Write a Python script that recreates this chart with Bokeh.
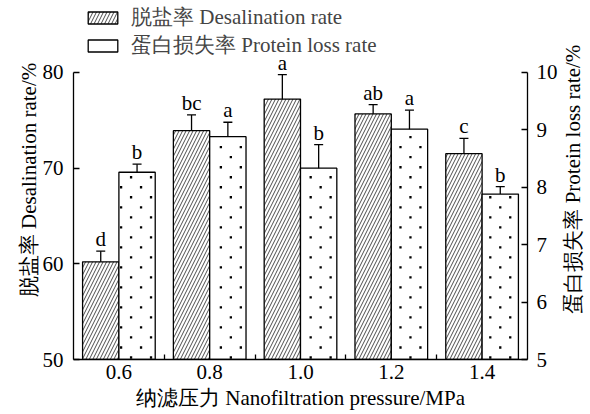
import numpy as np
from math import pi
from bokeh.plotting import figure
from bokeh.layouts import row
from bokeh.models import (ColumnDataSource, Range1d, LinearAxis, FixedTicker,
                          NumeralTickFormatter, Whisker, TeeHead, Legend, LegendItem)
from bokeh.core.properties import value
from bokeh.embed import file_html
from bokeh.resources import INLINE

# ---- data ----
pressure = [0.6, 0.8, 1.0, 1.2, 1.4]
desal = [60.2, 73.9, 77.2, 75.65, 71.5]
desal_err = [1.12, 1.65, 2.55, 0.97, 1.6]
desal_letters = ["d", "bc", "a", "ab", "c"]
protein = [8.26, 8.88, 8.33, 9.01, 7.88]
protein_err = [0.14, 0.25, 0.41, 0.33, 0.13]
protein_letters = ["b", "a", "b", "a", "b"]
left_ticks = [50, 60, 70, 80]
right_ticks = [5, 6, 7, 8, 9, 10]
x_title = "纳滤压力 Nanofiltration pressure/MPa"
left_title = "脱盐率 Desalination rate/%"
right_title = "蛋白损失率 Protein loss rate/%"
legend_labels = ["脱盐率 Desalination rate", "蛋白损失率 Protein loss rate"]

# ---- style / layout ----
FONT = "Liberation Serif"
FS = "21px"
BAR_W = 0.08
LEFT_TOP = 87.5                       # frame extends above the axis end (80) for legend/letters
RIGHT_TOP = 5 + (LEFT_TOP - 50) / 6   # keeps right scale aligned (50->5, 80->10)
H = 414
W_MAIN = 560
W_SIDE = 30
FRAME_W_PX = 455.0
FRAME_H_PX = 358.5
DOT_DX, DOT_DY = 20.0, 10.0           # staggered dot texture spacing (px)

px = np.array(pressure)
d = np.array(desal); de = np.array(desal_err)
pr = np.array(protein); pe = np.array(protein_err)
src = ColumnDataSource(dict(
    x_d=px - BAR_W / 2, x_p=px + BAR_W / 2,
    desal=d, d_up=d + de, d_lo=d - de, d_let=desal_letters,
    protein=pr, p_up=pr + pe, p_lo=pr - pe, p_let=protein_letters,
))

# dotted fill texture for the protein bars (staggered lattice clipped to each bar)
x_per_px = 1.0 / FRAME_W_PX
r_per_px = (RIGHT_TOP - 5) / FRAME_H_PX
dot_x, dot_y = [], []
for xc, top in zip(px + BAR_W / 2, pr):
    left_px = (xc - BAR_W / 2 - 0.5) / x_per_px + 1.5
    right_px = (xc + BAR_W / 2 - 0.5) / x_per_px - 1.5
    top_px = (top - 5) / r_per_px - 2.0
    j = 0
    while 2 + j * DOT_DY <= top_px:
        y_px = 2 + j * DOT_DY
        off = 17.7 if j % 2 == 0 else 7.7
        k0 = int(np.floor((left_px - off) / DOT_DX))
        for k in range(k0, k0 + 4):
            x_px = off + k * DOT_DX
            if left_px <= x_px <= right_px:
                dot_x.append(0.5 + x_px * x_per_px)
                dot_y.append(5 + y_px * r_per_px)
        j += 1

p = figure(width=W_MAIN, height=H,
           x_range=Range1d(0.5, 1.5), y_range=Range1d(50, LEFT_TOP),
           output_backend="svg", toolbar_location=None,
           min_border_left=73, min_border_right=32, min_border_top=0, min_border_bottom=55)
p.extra_y_ranges = {"right": Range1d(5, RIGHT_TOP)}
p.outline_line_color = None
p.xgrid.visible = False
p.ygrid.visible = False

r1 = p.vbar(x="x_d", top="desal", bottom=50, width=BAR_W, source=src,
            fill_color="white", line_color="black", line_width=1.3,
            hatch_pattern="/", hatch_scale=7, hatch_color="black", hatch_weight=0.7)
r2 = p.vbar(x="x_p", top="protein", bottom=5, width=BAR_W, source=src, y_range_name="right",
            fill_color="white", line_color="black", line_width=1.3)
r_dots = p.scatter(x=dot_x, y=dot_y, y_range_name="right", marker="square", size=2.3,
                   fill_color="black", line_color=None)

for up, lo, xx, rn in [("d_up", "d_lo", "x_d", "default"), ("p_up", "p_lo", "x_p", "right")]:
    w = Whisker(base=xx, upper=up, lower=lo, source=src, y_range_name=rn,
                line_color="black", line_width=1.3,
                upper_head=TeeHead(size=9, line_width=1.3, line_color="black"),
                lower_head=TeeHead(size=9, line_width=1.3, line_color="black"))
    p.add_layout(w)

p.text(x="x_d", y="d_up", text="d_let", source=src, text_font=value(FONT), text_font_size=FS,
       text_align="center", text_baseline="bottom", y_offset=0, text_color="black")
p.text(x="x_p", y="p_up", text="p_let", source=src, y_range_name="right", text_font=value(FONT),
       text_font_size=FS, text_align="center", text_baseline="bottom", y_offset=0, text_color="black")

# axes
xa = p.xaxis[0]
xa.ticker = FixedTicker(ticks=pressure,
                        minor_ticks=[(a + b) / 2 for a, b in zip(pressure[:-1], pressure[1:])])
xa.formatter = NumeralTickFormatter(format="0.0")
xa.major_tick_in = 0
xa.major_tick_out = 0
xa.minor_tick_in = 5
xa.minor_tick_out = 0
xa.axis_label = x_title
xa.major_label_standoff = 5
xa.axis_label_standoff = 4

ya = p.yaxis[0]
ya.ticker = FixedTicker(ticks=left_ticks)
ya.bounds = (left_ticks[0], left_ticks[-1])
ya.major_tick_in = 6
ya.major_tick_out = 0
ya.minor_tick_in = 0
ya.minor_tick_out = 0
ya.axis_label = left_title
ya.major_label_standoff = 10
ya.axis_label_standoff = -1

ra = LinearAxis(y_range_name="right", ticker=FixedTicker(ticks=right_ticks),
                bounds=(right_ticks[0], right_ticks[-1]))
ra.major_tick_in = 6
ra.major_tick_out = 0
ra.minor_tick_in = 0
ra.minor_tick_out = 0
ra.major_label_standoff = 9
p.add_layout(ra, "right")

for ax in [xa, ya, ra]:
    ax.axis_line_width = 1.3
    ax.axis_line_color = "black"
    ax.major_tick_line_width = 1.3
    ax.minor_tick_line_width = 1.3
    ax.major_label_text_font = FONT
    ax.major_label_text_font_size = FS
    ax.major_label_text_color = "black"
    ax.axis_label_text_font = FONT
    ax.axis_label_text_font_size = FS
    ax.axis_label_text_font_style = "normal"
    ax.axis_label_text_color = "black"

legend = Legend(items=[LegendItem(label=legend_labels[0], renderers=[r1]),
                       LegendItem(label=legend_labels[1], renderers=[r2])],
                location=(11, 300), border_line_color=None, background_fill_alpha=0,
                padding=0, margin=0, spacing=0, glyph_width=37, glyph_height=15,
                label_standoff=10, label_text_font=FONT, label_text_font_size=FS,
                label_text_line_height=1.0, label_height=20)
p.add_layout(legend)

# narrow strip on the right carrying the right-axis title (reads bottom-to-top)
p2 = figure(width=W_SIDE, height=H, x_range=Range1d(0, W_SIDE), y_range=Range1d(0, H),
            output_backend="svg", toolbar_location=None, min_border=0,
            x_axis_type=None, y_axis_type=None)
p2.outline_line_color = None
p2.grid.visible = False
p2.text(x=[12], y=[H - 206], text=[right_title], angle=pi / 2,
        text_align="center", text_baseline="middle",
        text_font=value(FONT), text_font_size=FS, text_color="black")

layout = row(p, p2)
open("out.html", "w").write(file_html(layout, INLINE))
